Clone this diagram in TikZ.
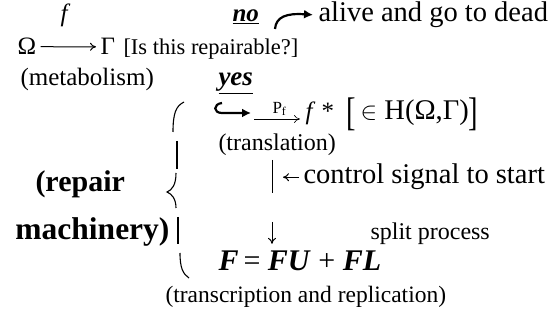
\documentclass[tikz,border=0pt]{standalone}
\usepackage{fontspec}
\setmainfont{Liberation Serif}
\usetikzlibrary{positioning,arrows.meta}

\begin{document}
\begin{tikzpicture}[x=1pt, y=-1pt, >={To[length=6pt,width=8pt]}, line width=1pt,
    every node/.style={font=\fontsize{25}{28}\selectfont, inner sep=0pt, anchor=base west},
    big/.style={font=\fontsize{28.5}{30}\selectfont},
    small/.style={font=\fontsize{23.5}{26}\selectfont},
    heavy/.style={font=\fontsize{30}{32}\selectfont\bfseries},
    thickarrow/.style={line width=2.2pt, -{Latex[length=9pt,width=9pt]}},
    bracepart/.style={line width=1.1pt}]
  \useasboundingbox (0,0) rectangle (560,320);
  % first line: the map and the question
  \node (f) at (60,22) {\textit{f}};
  \node (omega) at (17,55) {Ω};
  \node (gamma) at (100,55) {Γ};
  \draw[->, shorten <=4pt, shorten >=4pt] (omega) -- (gamma);
  \node[font=\fontsize{22.5}{26}\selectfont] (ask) at (123,55) {[Is this repairable?]};
  \node (meta) at (20,86) {(metabolism)};
  \node (no) at (232,22) {\textbf{\textit{\underline{no}}}};
  \node[big] (dead) at (318,22) {alive and go to dead};
  \coordinate (turn) at (275,29);
  \draw[thickarrow, shorten >=5pt] (turn) .. controls (276,17) and (286,13) .. (dead.west);
  \node[font=\fontsize{27}{28}\selectfont] (yes) at (218,86) {\textbf{\textit{\underline{yes}}}};

  % repair branch
  \coordinate (hook) at (222,103);
  \coordinate (hookend) at (251,113);
  \draw[thickarrow] (hook) .. controls (213,104) and (213,113) .. (222,113) -- (hookend);
  \coordinate (pfa) at (254,119);
  \node (fstar) at (305,120) {\textit{f} *};
  \node[big] (hset) at (346,120) {\raisebox{-0.2em}{\scalebox{1}[1.4]{[}}\,$\in$ H(Ω,Γ)\raisebox{-0.2em}{\scalebox{1}[1.4]{]}}};
  \draw[->, line width=0.6pt, shorten >=5pt] (pfa) -- node[midway, above=3pt, anchor=south, font=\fontsize{17}{17}\selectfont] (pf) {P\textsubscript{f}} (pfa -| fstar.west);
  \node[font=\fontsize{24}{26}\selectfont] (trans) at (218,151) {(translation)};
  \coordinate (bartop) at (272,160);
  \coordinate (barbot) at (272,193);
  \draw (bartop) -- (barbot);
  \node[big] (ctrl) at (303,184) {control signal to start};
  \coordinate (sig) at (283,0);
  \draw[->, shorten <=4pt] (ctrl.west) -- (ctrl.west -| sig);
  \coordinate (dtop) at (272,222);
  \node[font=\fontsize{24}{26}\selectfont] (split) at (370,240) {split process};
  \node[heavy] (eqn) at (218,271) {\textit{F}\,\mdseries= \bfseries\textit{FU} \mdseries+ \bfseries\textit{FL}};
  \draw[->, shorten >=7pt] (dtop) -- (dtop |- eqn.north);
  \node[small] (tr) at (165,303) {(transcription and replication)};

  % the brace
  \node[heavy] (repair) at (35,192) {(repair};
  \node[font=\fontsize{31.5}{32}\selectfont\bfseries] (mach) at (15,240) {machinery)};
  \draw[bracepart] (184,102) .. controls (176,106) and (173,113) .. (173,132);
  \draw[bracepart] (177,141) -- (177,169);
  \draw[bracepart] (176,173) .. controls (176,185) and (172,190) .. (167,192)
                   .. controls (172,194) and (176,199) .. (176,208);
  \draw[bracepart] (178,217) -- (178,244);
  \draw[bracepart] (180,253) .. controls (180,268) and (183,274) .. (189,278);
\end{tikzpicture}
\end{document}
